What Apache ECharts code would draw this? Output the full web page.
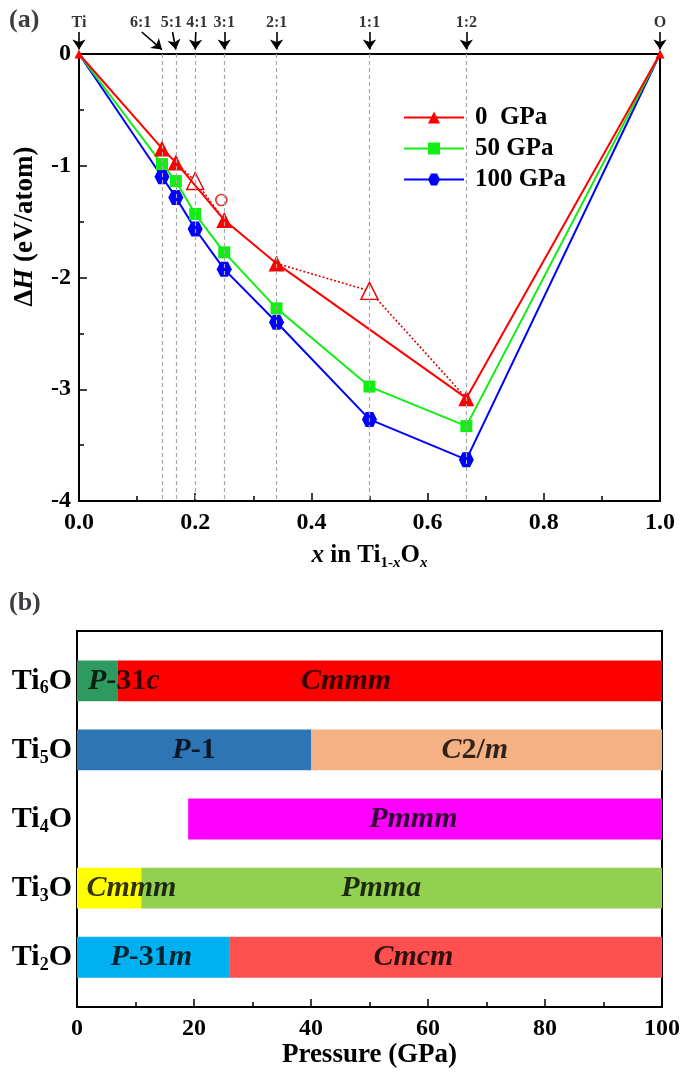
<!DOCTYPE html>
<html lang="en">
<head>
    <meta charset="UTF-8">
    <title>Ti-O formation enthalpy and phase diagram</title>
    <script src="https://cdn.jsdelivr.net/npm/echarts@6/dist/echarts.min.js"></script>
    <style>
        * { margin: 0; padding: 0; box-sizing: border-box; }
        body { background: #ffffff; }
        #chart { width: 685px; height: 1078px; }
    </style>
</head>
<body>
    <div id="chart"></div>
    <script type="text/javascript">
        // ---- panel (a): formation enthalpy vs composition ----
        const xComp = [0, 1/7, 1/6, 0.2, 0.25, 0.34, 0.5, 2/3, 1];
        const dH0   = [0, -0.845, -0.97, null, -1.486, -1.874, null, -3.08, 0];
        const dH50  = [0, -0.985, -1.137, -1.432, -1.775, -2.276, -2.976, -3.33, 0];
        const dH100 = [0, -1.098, -1.283, -1.566, -1.927, -2.40, -3.27, -3.63, 0];

        // metastable 0 GPa phases (dotted red paths, open markers in the middle)
        const metaPathA_x = [1/6, 0.2, 0.25];
        const metaPathA_y = [-0.97, -1.137, -1.486];
        const metaPathB_x = [0.34, 0.5, 2/3];
        const metaPathB_y = [-1.874, -2.12, -3.08];
        const openCircle = [0.245, -1.307];

        // composition markers along the top
        const ratioNames  = ['Ti', '6:1', '5:1', '4:1', '3:1', '2:1', '1:1', '1:2', 'O'];
        const ratioLabelX = [0, 0.106, 0.159, 0.203, 0.25, 0.34, 0.5, 2/3, 1];
        const ratioArrowX = [0, 0.108, 0.161, 0.201, 0.25, 0.34, 0.5, 2/3, 1];
        const ratioTipX   = [0, 1/7, 1/6, 0.2, 0.25, 0.34, 0.5, 2/3, 1];
        const guideX = [1/7, 1/6, 0.2, 0.25, 0.34, 0.5, 2/3];

        // ---- panel (b): stable phases vs pressure ----
        const compounds = ['Ti6O', 'Ti5O', 'Ti4O', 'Ti3O', 'Ti2O'];
        const phaseNames = ['P-31c', 'Cmmm', 'P-1', 'C2/m', 'Pmmm', 'Cmmm', 'Pmma', 'P-31m', 'Cmcm'];
        const phaseRow   = [0, 0, 1, 1, 2, 3, 3, 4, 4];
        const phaseFrom  = [0, 7, 0, 40, 19, 0, 11, 0, 26];
        const phaseTo    = [7, 100, 40, 100, 100, 11, 100, 26, 100];
        const phaseLabelAt = [8, 46, 20, 68, 57.5, 9.3, 52, 12.7, 57.5];
        const phaseColors = ['#2f9a5f', '#ff0000', '#2e75b6', '#f4b183', '#ff00ff',
                             '#ffff00', '#92d050', '#00b0f0', '#ff5050'];

        const FONT = 'Liberation Serif';
        const hexagon = 'path://M-1,0 L-0.5,-0.866 L0.5,-0.866 L1,0 L0.5,0.866 L-0.5,0.866 Z';

        function pairs(xs, ys) {
            const out = [];
            xs.forEach(function (x, i) {
                if (ys[i] !== null) out.push([x, ys[i]]);
            });
            return out;
        }

        // end points (pure Ti, pure O) get no marker except a small one for 0 GPa
        function withEnds(data, endSymbol, endSize) {
            return data.map(function (p, i) {
                if (i === 0 || i === data.length - 1) {
                    return { value: p, symbol: endSymbol, symbolSize: endSize };
                }
                return p;
            });
        }

        // sub-scripted compound names, e.g. Ti6O -> Ti{s|6}O
        function compoundRich(name) {
            return '{a|Ti}{s|' + name.charAt(2) + '}{a|O}';
        }

        // space-group names: letters italic, digits and signs upright
        function groupRich(name) {
            let out = '';
            let buf = '';
            let mode = null;
            for (const ch of name) {
                const m = /[A-Za-z]/.test(ch) ? 'i' : 'r';
                if (m !== mode && buf) { out += '{' + mode + '|' + buf + '}'; buf = ''; }
                mode = m;
                buf += ch;
            }
            if (buf) out += '{' + mode + '|' + buf + '}';
            return out;
        }

        const chart = echarts.init(document.getElementById('chart'));

        const phaseData = phaseNames.map(function (n, i) {
            return {
                value: [phaseFrom[i], phaseTo[i], phaseRow[i]],
                itemStyle: { color: phaseColors[i] }
            };
        });
        const phaseLabelData = phaseNames.map(function (n, i) {
            return [phaseLabelAt[i], phaseRow[i], n];
        });

        const dottedStyle = { color: '#e00000', width: 1.6, type: [2, 2] };
        function metaSeries(xs, ys) {
            return {
                type: 'line', xAxisIndex: 0, yAxisIndex: 0, z: 3,
                data: xs.map(function (x, i) {
                    const open = (i === 1);
                    return { value: [x, ys[i]], symbol: open ? 'triangle' : 'none', symbolSize: 17 };
                }),
                lineStyle: dottedStyle,
                itemStyle: { color: '#ffffff', borderColor: '#e00000', borderWidth: 1.4 },
                silent: true
            };
        }

        const hiddenAxis = {
            type: 'value', min: 0, max: 1, show: false,
            axisLine: { show: false, onZero: false }, axisTick: { show: false },
            axisLabel: { show: false }, splitLine: { show: false }
        };

        const option = {
            animation: false,
            backgroundColor: '#ffffff',
            textStyle: { fontFamily: FONT, color: '#000' },
            title: [
                { text: '(a)', left: 4, top: 2, textStyle: { fontFamily: FONT, fontSize: 26, fontWeight: 'bold' } },
                { text: '(b)', left: 4, top: 585, textStyle: { fontFamily: FONT, fontSize: 26, fontWeight: 'bold' } }
            ],
            legend: {
                data: ['0  GPa', '50 GPa', '100 GPa'],
                orient: 'vertical',
                left: 398, top: 85,
                padding: [20, 8, 4, 5],
                backgroundColor: '#ffffff',
                itemWidth: 60, itemHeight: 15, itemGap: 6,
                textStyle: { fontFamily: FONT, fontSize: 25, fontWeight: 'bold', color: '#000', padding: [0, 0, 0, 6] }
            },
            grid: [
                { left: 79, right: 25, top: 54, height: 447, show: true, borderColor: '#000', borderWidth: 2, outerBoundsMode: 'none' },
                { left: 77, right: 23, top: 631, height: 376, show: true, borderColor: '#000', borderWidth: 2, outerBoundsMode: 'none' },
                { left: 79, right: 25, top: 10, height: 44, show: false, outerBoundsMode: 'none' }
            ],
            xAxis: [
                {
                    gridIndex: 0, type: 'value', min: 0, max: 1, interval: 0.2,
                    name: '{i|x}{a| in Ti}{s|1-}{si|x}{a|O}{si|x}',
                    nameLocation: 'middle', nameGap: 39,
                    nameTextStyle: {
                        rich: {
                            a: { fontFamily: FONT, fontSize: 25, fontWeight: 'bold' },
                            i: { fontFamily: FONT, fontSize: 25, fontWeight: 'bold', fontStyle: 'italic' },
                            s: { fontFamily: FONT, fontSize: 15, fontWeight: 'bold', padding: [16, 0, 0, 0] },
                            si: { fontFamily: FONT, fontSize: 15, fontWeight: 'bold', fontStyle: 'italic', padding: [16, 0, 0, 0] }
                        }
                    },
                    axisLine: { onZero: false, lineStyle: { color: '#000', width: 2 } },
                    axisTick: { inside: true, length: 8, lineStyle: { color: '#000', width: 1.5 } },
                    minorTick: { show: true, splitNumber: 2, length: 5, lineStyle: { color: '#000', width: 1.5 } },
                    splitLine: { show: false },
                    axisLabel: {
                        fontFamily: FONT, fontSize: 24, fontWeight: 'bold', color: '#000', margin: 10,
                        formatter: function (v) { return v.toFixed(1); }
                    }
                },
                {
                    gridIndex: 1, type: 'value', min: 0, max: 100, interval: 20,
                    name: 'Pressure (GPa)', nameLocation: 'middle', nameGap: 34,
                    nameTextStyle: { fontFamily: FONT, fontSize: 27, fontWeight: 'bold', color: '#000' },
                    axisLine: { onZero: false, lineStyle: { color: '#000', width: 2 } },
                    axisTick: { inside: true, length: 8, lineStyle: { color: '#000', width: 1.5 } },
                    minorTick: { show: true, splitNumber: 2, length: 5, lineStyle: { color: '#000', width: 1.5 } },
                    splitLine: { show: false },
                    axisLabel: { fontFamily: FONT, fontSize: 24, fontWeight: 'bold', color: '#000', margin: 10 }
                },
                Object.assign({ gridIndex: 2 }, hiddenAxis)
            ],
            yAxis: [
                {
                    gridIndex: 0, type: 'value', min: -4, max: 0, interval: 1,
                    name: '{d|Δ}{i|H}{a| (eV/atom)}',
                    nameLocation: 'middle', nameGap: 40, nameRotate: 90,
                    nameTextStyle: {
                        // left padding lifts the rotated title above the axis middle
                        padding: [0, 0, 0, 102],
                        rich: {
                            a: { fontFamily: FONT, fontSize: 27, fontWeight: 'bold' },
                            d: { fontFamily: FONT, fontSize: 27, fontWeight: 'bold' },
                            i: { fontFamily: FONT, fontSize: 27, fontWeight: 'bold', fontStyle: 'italic' }
                        }
                    },
                    axisLine: { onZero: false, lineStyle: { color: '#000', width: 2 } },
                    axisTick: { inside: true, length: 8, lineStyle: { color: '#000', width: 1.5 } },
                    minorTick: { show: true, splitNumber: 2, length: 5, lineStyle: { color: '#000', width: 1.5 } },
                    splitLine: { show: false },
                    axisLabel: { fontFamily: FONT, fontSize: 24, fontWeight: 'bold', color: '#000', margin: 8 }
                },
                {
                    gridIndex: 1, type: 'value', min: -0.72, max: 4.72, inverse: true,
                    axisLine: { onZero: false, lineStyle: { color: '#000', width: 2 } },
                    axisTick: { show: false },
                    splitLine: { show: false },
                    axisLabel: {
                        customValues: [0, 1, 2, 3, 4],
                        margin: 5,
                        formatter: function (v) { return compoundRich(compounds[Math.round(v)]); },
                        rich: {
                            a: { fontFamily: FONT, fontSize: 30, fontWeight: 'bold', color: '#000' },
                            s: { fontFamily: FONT, fontSize: 18, fontWeight: 'bold', color: '#000', padding: [16, 0, 0, 0] }
                        }
                    }
                },
                Object.assign({ gridIndex: 2 }, hiddenAxis)
            ],
            series: [
                {
                    name: '100 GPa', type: 'line', xAxisIndex: 0, yAxisIndex: 0, z: 2,
                    data: withEnds(pairs(xComp, dH100), 'none', 0),
                    symbol: hexagon, symbolSize: 15,
                    lineStyle: { color: '#0000ff', width: 2 },
                    itemStyle: { color: '#0000ff' }
                },
                {
                    name: '50 GPa', type: 'line', xAxisIndex: 0, yAxisIndex: 0, z: 2,
                    data: withEnds(pairs(xComp, dH50), 'none', 0),
                    symbol: 'rect', symbolSize: 12,
                    lineStyle: { color: '#11ee11', width: 2 },
                    itemStyle: { color: '#11ee11' }
                },
                {
                    name: '0  GPa', type: 'line', xAxisIndex: 0, yAxisIndex: 0, z: 4,
                    data: withEnds(pairs(xComp, dH0), 'triangle', 9),
                    symbol: 'triangle', symbolSize: 16,
                    lineStyle: { color: '#ff0000', width: 2 },
                    itemStyle: { color: '#ff0000' },
                    // grey guide lines at each stoichiometry
                    markLine: {
                        silent: true, symbol: ['none', 'none'],
                        label: { show: false },
                        lineStyle: { color: '#a8a8a8', width: 1.2, type: [4, 3] },
                        data: guideX.map(function (x) {
                            return [{ coord: [x, 0] }, { coord: [x, -4] }];
                        })
                    }
                },
                metaSeries(metaPathA_x, metaPathA_y),
                metaSeries(metaPathB_x, metaPathB_y),
                {
                    type: 'scatter', xAxisIndex: 0, yAxisIndex: 0, z: 3,
                    data: [openCircle], symbol: 'circle', symbolSize: 11,
                    itemStyle: { color: '#ffffff', borderColor: '#e00000', borderWidth: 1.6 },
                    silent: true
                },
                {
                    // ratio labels above panel (a)
                    type: 'scatter', xAxisIndex: 2, yAxisIndex: 2,
                    data: ratioNames.map(function (n, i) { return [ratioLabelX[i], 0.7, n]; }),
                    symbolSize: 0, silent: true,
                    label: {
                        show: true, position: 'inside',
                        formatter: function (p) { return p.data[2]; },
                        fontFamily: FONT, fontSize: 16, fontWeight: 'bold', color: '#000'
                    }
                },
                {
                    // arrows pointing at each composition
                    type: 'line', xAxisIndex: 2, yAxisIndex: 2, data: [],
                    symbol: 'none', silent: true,
                    markLine: {
                        silent: true, symbol: ['none', 'arrow'], symbolSize: 10,
                        label: { show: false },
                        lineStyle: { color: '#000', width: 1.6, type: 'solid' },
                        data: ratioNames.map(function (n, i) {
                            return [{ coord: [ratioArrowX[i], 0.5] }, { coord: [ratioTipX[i], 0.1] }];
                        })
                    }
                },
                {
                    // phase bars of panel (b)
                    type: 'custom', xAxisIndex: 1, yAxisIndex: 1,
                    renderItem: function (params, api) {
                        const row = api.value(2);
                        const p0 = api.coord([api.value(0), row]);
                        const p1 = api.coord([api.value(1), row]);
                        const h = Math.abs(api.size([0, 0.59])[1]);
                        return {
                            type: 'rect',
                            shape: { x: p0[0], y: p0[1] - h / 2, width: p1[0] - p0[0], height: h },
                            style: { fill: api.visual('color') }
                        };
                    },
                    encode: { x: [0, 1], y: 2 },
                    data: phaseData,
                    silent: true
                },
                {
                    // phase names drawn on top of the bars
                    type: 'scatter', xAxisIndex: 1, yAxisIndex: 1, z: 5,
                    data: phaseLabelData, symbolSize: 0, silent: true,
                    label: {
                        show: true, position: 'inside',
                        formatter: function (p) { return groupRich(p.data[2]); },
                        rich: {
                            i: { fontFamily: FONT, fontSize: 30, fontWeight: 'bold', fontStyle: 'italic', color: '#000' },
                            r: { fontFamily: FONT, fontSize: 30, fontWeight: 'bold', color: '#000' }
                        }
                    }
                }
            ]
        };

        chart.setOption(option);
    </script>
</body>
</html>
